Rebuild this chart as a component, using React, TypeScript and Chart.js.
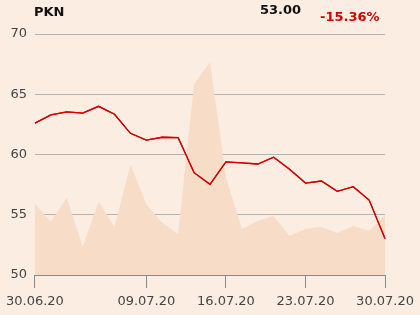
import React, { useEffect, useRef } from "react";
import { Chart, registerables } from "chart.js";

Chart.register(...registerables);

const dates = [
  "30.06.20", "01.07.20", "02.07.20", "03.07.20", "06.07.20", "07.07.20", "08.07.20",
  "09.07.20", "10.07.20", "13.07.20", "14.07.20", "15.07.20", "16.07.20", "17.07.20",
  "20.07.20", "21.07.20", "22.07.20", "23.07.20", "24.07.20", "27.07.20", "28.07.20",
  "29.07.20", "30.07.20",
];
const shownLabels = ["30.06.20", "09.07.20", "16.07.20", "23.07.20", "30.07.20"];
const prices = [
  62.61, 63.28, 63.53, 63.44, 64.0, 63.34, 61.76, 61.2, 61.43, 61.4, 58.49, 57.53,
  59.38, 59.3, 59.21, 59.77, 58.77, 57.63, 57.8, 56.94, 57.33, 56.22, 53.0,
];
const volumes = [
  29.5, 22.1, 32.1, 11.7, 30.4, 19.8, 45.9, 29.3, 21.7, 17.0, 79.3, 88.3,
  40.7, 19.1, 22.4, 24.5, 16.2, 19.2, 19.9, 17.4, 20.3, 18.4, 24.6,
];
const yTicks = [50, 55, 60, 65, 70];
const ticker = "PKN";
const lastPrice = "53.00";
const change = "-15.36%";

const BG = "#fbede2";
const FONT = "'DejaVu Sans', sans-serif";

export default function App() {
  const ref = useRef<HTMLCanvasElement>(null);
  useEffect(() => {
    if (!ref.current) return;
    const redrawLine = {
      id: "redrawLine",
      afterDraw(chart: any) {
        const meta = chart.getDatasetMeta(1);
        if (meta && meta.controller) meta.controller.draw();
      },
    };
    const chart = new Chart(ref.current, {
      type: "line",
      data: {
        labels: dates,
        datasets: [
          {
            label: "volume",
            data: volumes,
            yAxisID: "y2",
            fill: "origin",
            backgroundColor: "#f7dcc8",
            borderWidth: 0,
            borderColor: "rgba(0,0,0,0)",
            pointRadius: 0,
            tension: 0,
            order: 2,
          },
          {
            label: "price",
            data: prices,
            yAxisID: "y",
            fill: false,
            borderColor: "#d70000",
            borderWidth: 1.3,
            pointRadius: 0,
            tension: 0,
            order: 1,
          },
        ],
      },
      options: {
        responsive: false,
        animation: false,
        layout: { padding: { left: 0, right: 34, top: 34, bottom: 0 } },
        plugins: { legend: { display: false }, tooltip: { enabled: false } },
        scales: {
          x: {
            type: "category",
            offset: false,
            afterFit(scale: any) {
              scale.height = 40;
            },
            grid: {
              drawOnChartArea: false,
              drawTicks: true,
              tickLength: 13,
              color: (ctx: any) =>
                shownLabels.includes(dates[ctx.index]) ? "#8a8a8a" : "rgba(0,0,0,0)",
            },
            border: { display: true, color: "#8a8a8a" },
            ticks: {
              autoSkip: false,
              maxRotation: 0,
              padding: 6,
              color: "#444",
              font: { family: FONT, size: 13 },
              callback: (_v: any, i: number) =>
                shownLabels.includes(dates[i]) ? dates[i] : "",
            },
          },
          y: {
            min: 50,
            max: 70,
            z: 1,
            afterFit(scale: any) {
              scale.width = 34;
            },
            afterBuildTicks(scale: any) {
              scale.ticks = yTicks.map((v) => ({ value: v }));
            },
            grid: { color: "#b4b4b4", drawTicks: false },
            border: { display: false },
            ticks: {
              padding: 8,
              color: "#444",
              font: { family: FONT, size: 13 },
            },
          },
          y2: {
            display: false,
            min: 0,
            max: 100,
          },
        },
      },
      plugins: [redrawLine],
    } as any);
    return () => chart.destroy();
  }, []);

  return (
    <div
      style={{
        position: "fixed",
        left: 0,
        top: 0,
        width: 420,
        height: 315,
        background: BG,
        fontFamily: FONT,
      }}
    >
      <canvas ref={ref} width={420} height={315} style={{ position: "absolute", left: 0, top: 0 }} />
      <span style={{ position: "absolute", left: 34, top: 4, fontSize: 13, fontWeight: "bold", color: "#111", whiteSpace: "nowrap" }}>
        {ticker}
      </span>
      <span style={{ position: "absolute", left: 260, top: 2, fontSize: 13, fontWeight: "bold", color: "#111", whiteSpace: "nowrap" }}>
        {lastPrice}
      </span>
      <span style={{ position: "absolute", left: 320, top: 9, fontSize: 13, fontWeight: "bold", color: "#d70000", whiteSpace: "nowrap" }}>
        {change}
      </span>
    </div>
  );
}
